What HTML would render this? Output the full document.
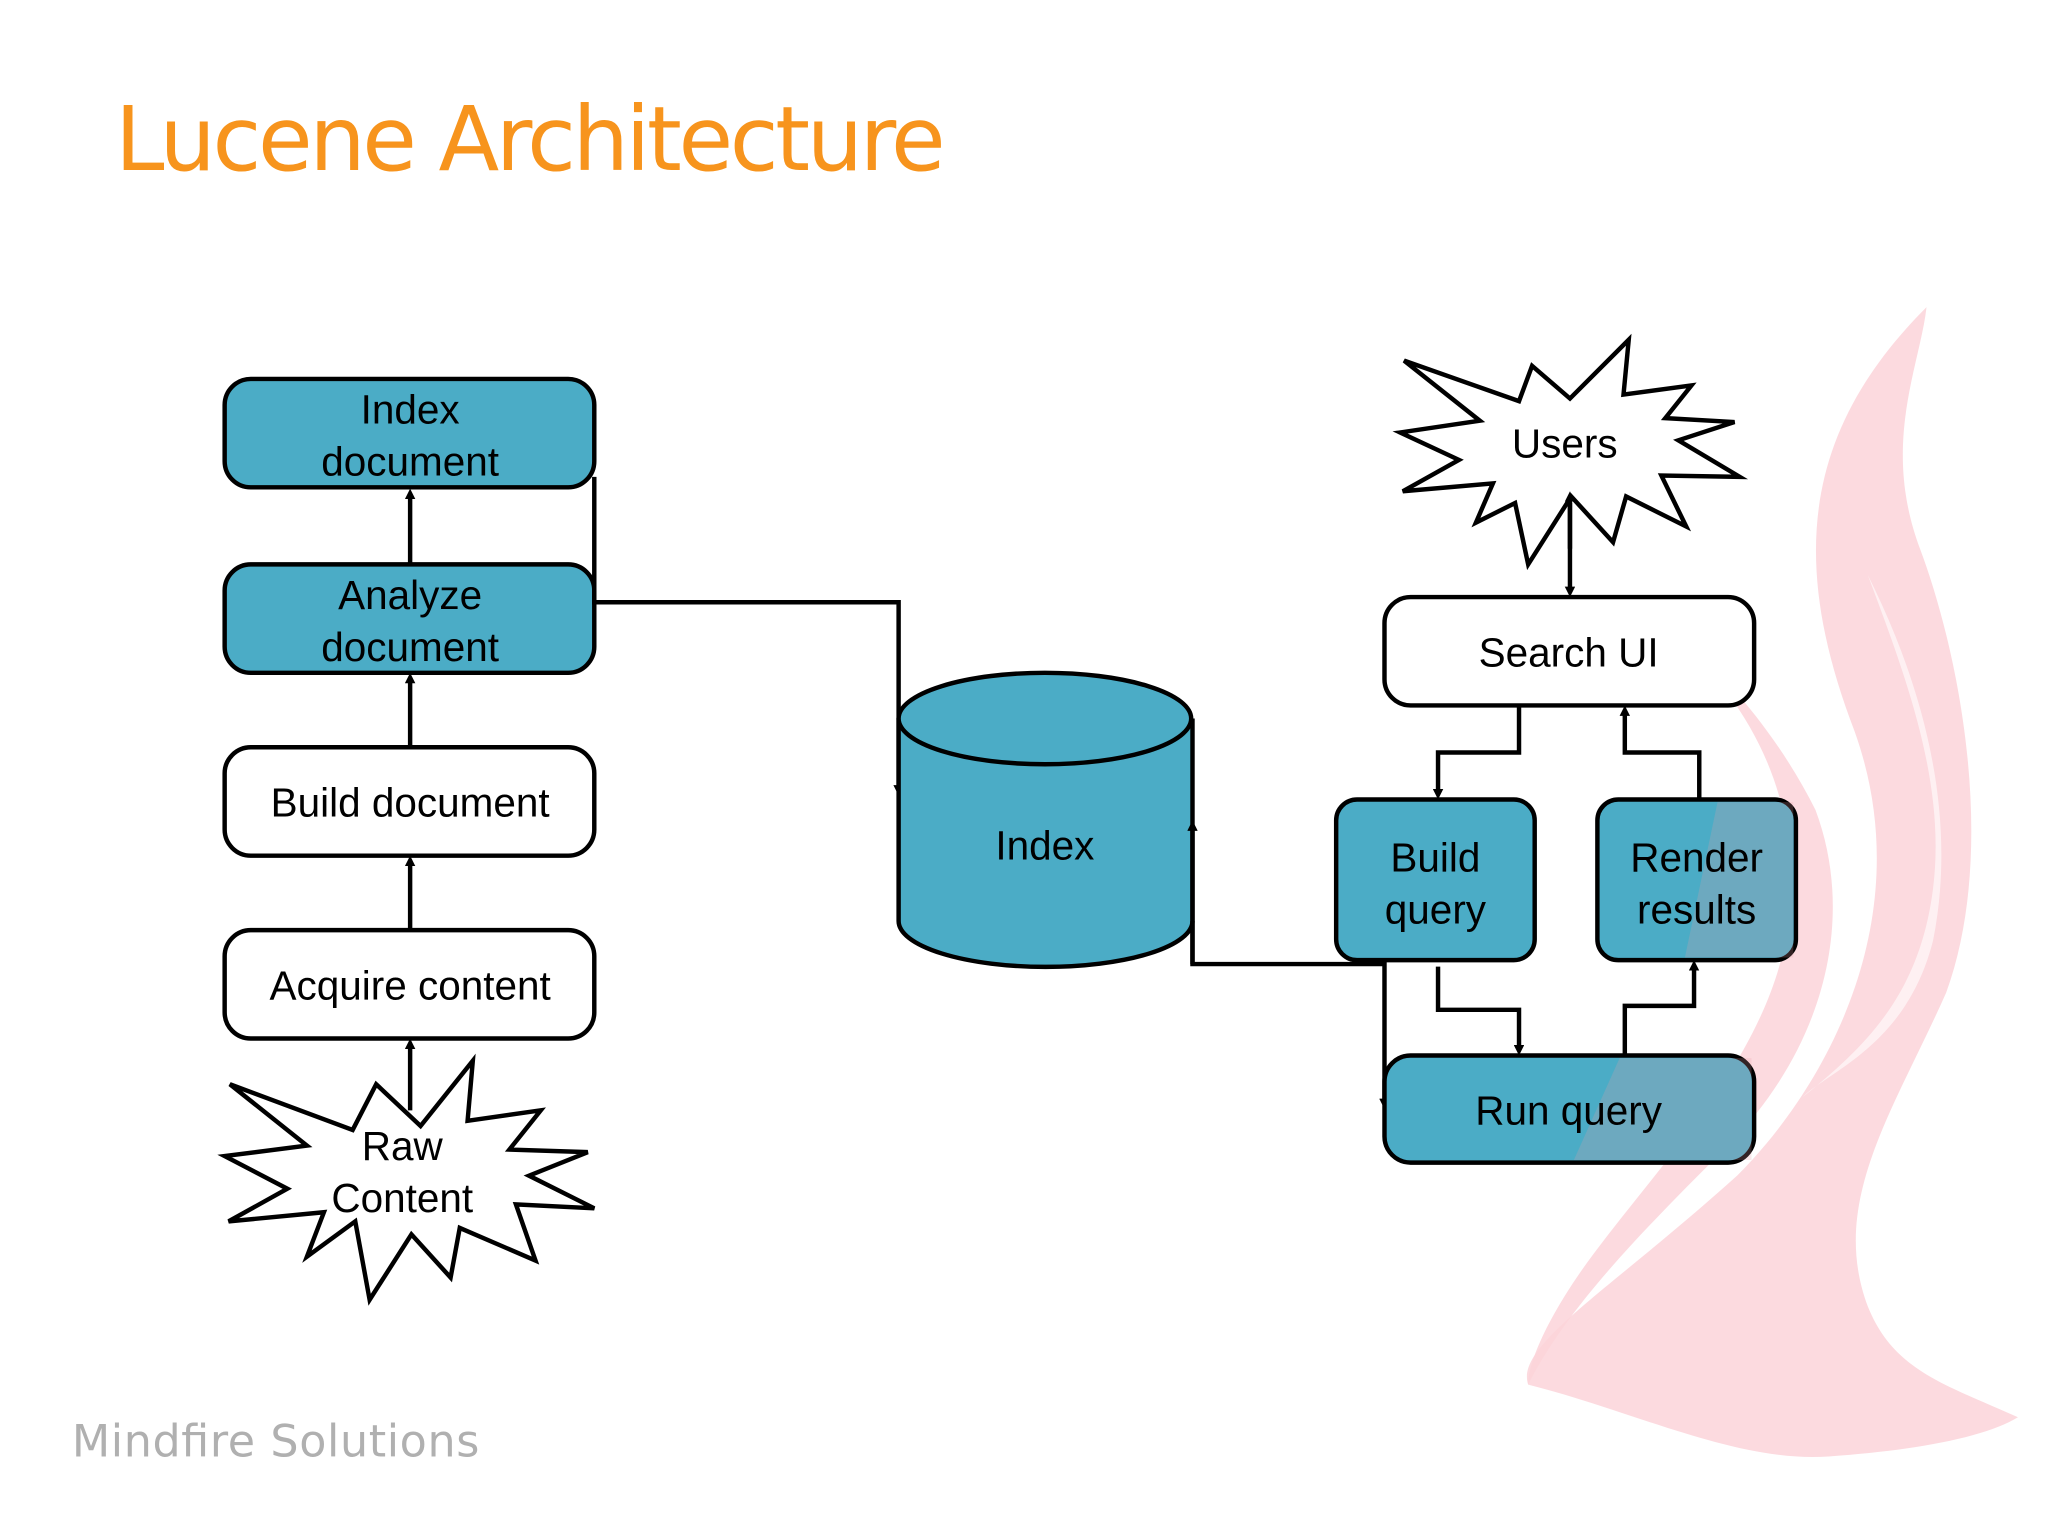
<!DOCTYPE html>
<html><head><meta charset="utf-8"><style>
html,body{margin:0;padding:0;background:#fff;}
svg{display:block;}
text{font-family:"Liberation Sans","DejaVu Sans",sans-serif;}
</style></head><body>
<svg width="2048" height="1535" viewBox="0 0 1568 1175" xmlns="http://www.w3.org/2000/svg">
<defs>
<marker id="ah" markerWidth="8" markerHeight="8" refX="4" refY="4" orient="auto" markerUnits="userSpaceOnUse">
<path d="M0,0 L8,4 L0,8 Z" fill="#000"/></marker>
</defs>
<rect width="1568" height="1175" fill="#fff"/>
<path d="M1475,235 C1380,330 1370,430 1420,560 C1470,700 1400,830 1330,900 C1230,990 1160,1030 1170,1060 C1250,1080 1330,1120 1400,1115 C1470,1110 1520,1100 1545,1085 C1490,1060 1450,1050 1430,1000 C1400,920 1450,850 1490,760 C1530,650 1500,500 1470,420 C1440,340 1470,280 1475,235 Z" fill="#fbd3d9" opacity="0.85"/>
<path d="M1260,470 C1330,520 1380,600 1370,700 C1360,800 1280,880 1220,960 C1190,1000 1170,1040 1170,1060 C1200,1000 1260,940 1320,880 C1400,800 1420,700 1390,620 C1360,560 1310,500 1260,470 Z" fill="#fbd3d9" opacity="0.85"/>
<path d="M1430,440 C1470,520 1500,620 1480,720 C1460,800 1400,820 1380,840 C1430,800 1470,760 1480,680 C1490,600 1460,520 1430,440 Z" fill="#fff" opacity="0.6"/>
<text x="88" y="130" font-size="68" fill="#F7941D" style="font-family:'DejaVu Sans','Liberation Sans',sans-serif" textLength="636">Lucene Architecture</text>
<g stroke="#000" stroke-width="3.4" fill="none">
<rect x="172" y="290" width="283" height="83" rx="20" fill="#4BACC6"/>
<rect x="172" y="432" width="283" height="83" rx="20" fill="#4BACC6"/>
<rect x="172" y="572" width="283" height="83" rx="20" fill="#fff"/>
<rect x="172" y="712" width="283" height="83" rx="20" fill="#fff"/>
<line x1="314" y1="432" x2="314" y2="378" marker-end="url(#ah)"/>
<line x1="314" y1="572" x2="314" y2="519" marker-end="url(#ah)"/>
<line x1="314" y1="712" x2="314" y2="659" marker-end="url(#ah)"/>
<line x1="314" y1="850" x2="314" y2="799" marker-end="url(#ah)"/>
<path d="M176,830 L270,865 L288,830 L322,862 L362,812 L358,858 L414,850 L390,880 L450,882 L405,900 L455,925 L395,922 L410,965 L352,940 L345,978 L315,945 L283,995 L272,935 L235,962 L248,928 L175,935 L220,910 L172,885 L235,877 Z" fill="#fff"/>
<polyline points="455,365 455,461 688,461 688,605" marker-end="url(#ah)"/>
<path d="M688,550 L688,705 A112,35 0 0 0 913,705 L913,550" fill="#4BACC6"/>
<ellipse cx="800" cy="550" rx="112" ry="35" fill="#4BACC6"/>
<polyline points="913,738 913,632" marker-end="url(#ah)"/>
<polyline points="913,705 913,738 1060,738 1060,845" marker-end="url(#ah)"/>
<path d="M1075,276 L1163,307 L1173,280 L1202,305 L1247,260 L1243,302 L1295,295 L1275,320 L1328,323 L1285,337 L1332,365 L1272,364 L1291,403 L1245,380 L1235,415 L1203,380 L1170,432 L1160,385 L1130,400 L1143,370 L1074,376 L1117,352 L1072,331 L1133,322 Z" fill="#fff"/>
<line x1="1202" y1="385" x2="1202" y2="453" marker-end="url(#ah)"/>
<line x1="1202" y1="420" x2="1202" y2="380" marker-end="url(#ah)"/>
<rect x="1060" y="457" width="283" height="83" rx="20" fill="#fff"/>
<rect x="1023" y="612" width="152" height="123" rx="16" fill="#4BACC6"/>
<rect x="1223" y="612" width="152" height="123" rx="16" fill="#4BACC6"/>
<rect x="1060" y="808" width="283" height="82" rx="20" fill="#4BACC6"/>
<polyline points="1163,540 1163,576 1101,576 1101,608" marker-end="url(#ah)"/>
<polyline points="1301,612 1301,576 1244,576 1244,544" marker-end="url(#ah)"/>
<polyline points="1101,740 1101,773 1163,773 1163,804" marker-end="url(#ah)"/>
<polyline points="1244,808 1244,770 1297,770 1297,739" marker-end="url(#ah)"/>
</g>
<path d="M1315,614 L1373,614 L1373,733 L1290,733 Z" fill="#e8a0a8" opacity="0.22"/>
<path d="M1240,810 L1341,810 L1341,888 L1205,888 Z" fill="#e8a0a8" opacity="0.22"/>
<g font-size="31" fill="#000" text-anchor="middle" style="font-family:'DejaVu Sans','Liberation Sans',sans-serif">
<text x="314" y="324">Index</text><text x="314" y="364">document</text>
<text x="314" y="466">Analyze</text><text x="314" y="506">document</text>
<text x="314" y="625">Build document</text>
<text x="314" y="765">Acquire content</text>
<text x="308" y="888">Raw</text><text x="308" y="928">Content</text>
<text x="800" y="658">Index</text>
<text x="1198" y="350">Users</text>
<text x="1201" y="510">Search UI</text>
<text x="1099" y="667">Build</text><text x="1099" y="707">query</text>
<text x="1299" y="667">Render</text><text x="1299" y="707">results</text>
<text x="1201" y="861">Run query</text>
</g>
<text x="55" y="1115" font-size="34" fill="#b0b0b0" style="font-family:'DejaVu Sans','Liberation Sans',sans-serif" textLength="312">Mindfire Solutions</text>
</svg>
</body></html>
